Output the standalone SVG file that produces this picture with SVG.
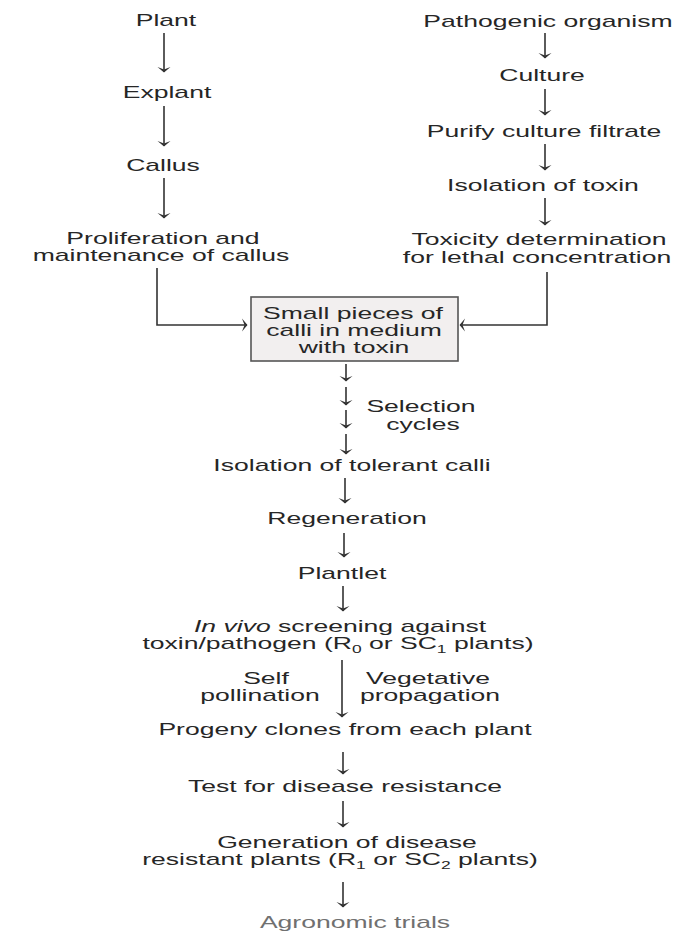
<svg xmlns="http://www.w3.org/2000/svg" width="683" height="932" viewBox="0 0 683 932">
<defs>
<style>
text{font-family:"Liberation Sans",Arial,sans-serif;font-size:16px;fill:#262626;text-anchor:middle}
.c line,.c path{stroke:#333;stroke-width:1.6;fill:none}
.box{fill:#f2efef;stroke:#555;stroke-width:1.6}
.sub{font-size:10.5px}
.faint{fill:#707070}
</style>
<marker id="ah" viewBox="-7 -7 8 14" markerWidth="8" markerHeight="14" refX="0" refY="0" orient="auto" markerUnits="userSpaceOnUse">
<path d="M0.5,0 L-5,-6.5 L-2.5,0 L-5,6.5 Z" fill="#333"/>
</marker>
</defs>
<rect width="683" height="932" fill="#fff"/>
<g class="c" id="connectors">
<line x1="164" y1="33" x2="164" y2="72" marker-end="url(#ah)"/>
<line x1="164" y1="106" x2="164" y2="146" marker-end="url(#ah)"/>
<line x1="164" y1="178" x2="164" y2="218" marker-end="url(#ah)"/>
<line x1="545" y1="33" x2="545" y2="58" marker-end="url(#ah)"/>
<line x1="545" y1="89" x2="545" y2="115" marker-end="url(#ah)"/>
<line x1="545" y1="144" x2="545" y2="170" marker-end="url(#ah)"/>
<line x1="545" y1="198" x2="545" y2="225" marker-end="url(#ah)"/>
<path d="M157,268 V325 H247" marker-end="url(#ah)"/>
<path d="M547,272 V325 H460" marker-end="url(#ah)"/>
<line x1="346" y1="364" x2="346" y2="381" marker-end="url(#ah)"/>
<line x1="346" y1="387" x2="346" y2="405" marker-end="url(#ah)"/>
<line x1="346" y1="410" x2="346" y2="428" marker-end="url(#ah)"/>
<line x1="346" y1="434" x2="346" y2="454" marker-end="url(#ah)"/>
<line x1="345" y1="478" x2="345" y2="503" marker-end="url(#ah)"/>
<line x1="344" y1="533" x2="344" y2="557" marker-end="url(#ah)"/>
<line x1="343" y1="586" x2="343" y2="611" marker-end="url(#ah)"/>
<line x1="342" y1="660" x2="342" y2="717" marker-end="url(#ah)"/>
<line x1="343" y1="752" x2="343" y2="774" marker-end="url(#ah)"/>
<line x1="343" y1="801" x2="343" y2="827" marker-end="url(#ah)"/>
<line x1="343" y1="882" x2="343" y2="907" marker-end="url(#ah)"/>
</g>
<g id="plant"><text transform="translate(166,26) scale(1.66,1)">Plant</text></g>
<g id="explant"><text transform="translate(167,98) scale(1.66,1)">Explant</text></g>
<g id="callus"><text transform="translate(163,171) scale(1.66,1)">Callus</text></g>
<g id="proliferation">
<text transform="translate(163,244) scale(1.66,1)">Proliferation and</text>
<text transform="translate(161,261) scale(1.66,1)">maintenance of callus</text>
</g>
<g id="pathogen"><text transform="translate(548,27) scale(1.66,1)">Pathogenic organism</text></g>
<g id="culture"><text transform="translate(542,81) scale(1.66,1)">Culture</text></g>
<g id="purify"><text transform="translate(544,137) scale(1.66,1)">Purify culture filtrate</text></g>
<g id="isolation-toxin"><text transform="translate(543,191) scale(1.66,1)">Isolation of toxin</text></g>
<g id="toxicity">
<text transform="translate(539,245) scale(1.66,1)">Toxicity determination</text>
<text transform="translate(537,263) scale(1.66,1)">for lethal concentration</text>
</g>
<g id="medium">
<rect class="box" x="251" y="297" width="207" height="64"/>
<text transform="translate(353,319) scale(1.66,1)">Small pieces of</text>
<text transform="translate(354,336) scale(1.66,1)">calli in medium</text>
<text transform="translate(354,353) scale(1.66,1)">with toxin</text>
</g>
<g id="selection">
<text transform="translate(421,412) scale(1.66,1)">Selection</text>
<text transform="translate(423,430) scale(1.66,1)">cycles</text>
</g>
<g id="tolerant"><text transform="translate(352,471) scale(1.66,1)">Isolation of tolerant calli</text></g>
<g id="regeneration"><text transform="translate(347,524) scale(1.66,1)">Regeneration</text></g>
<g id="plantlet"><text transform="translate(342,579) scale(1.66,1)">Plantlet</text></g>
<g id="screening">
<text transform="translate(340,632) scale(1.66,1)"><tspan font-style="italic">In vivo</tspan> screening against</text>
<text transform="translate(338,649) scale(1.66,1)">toxin/pathogen (R<tspan class="sub" dy="4">0</tspan><tspan dy="-4"> or SC</tspan><tspan class="sub" dy="4">1</tspan><tspan dy="-4"> plants)</tspan></text>
</g>
<g id="self">
<text transform="translate(266,684) scale(1.66,1)">Self</text>
<text transform="translate(260,701) scale(1.66,1)">pollination</text>
</g>
<g id="vegetative">
<text transform="translate(428,684) scale(1.66,1)">Vegetative</text>
<text transform="translate(430,701) scale(1.66,1)">propagation</text>
</g>
<g id="progeny"><text transform="translate(345,735) scale(1.66,1)">Progeny clones from each plant</text></g>
<g id="test"><text transform="translate(345,792) scale(1.66,1)">Test for disease resistance</text></g>
<g id="generation">
<text transform="translate(347,848) scale(1.66,1)">Generation of disease</text>
<text transform="translate(340,865) scale(1.66,1)">resistant plants (R<tspan class="sub" dy="4">1</tspan><tspan dy="-4"> or SC</tspan><tspan class="sub" dy="4">2</tspan><tspan dy="-4"> plants)</tspan></text>
</g>
<g id="agronomic"><text class="faint" transform="translate(355,928) scale(1.66,1)">Agronomic trials</text></g>
</svg>
